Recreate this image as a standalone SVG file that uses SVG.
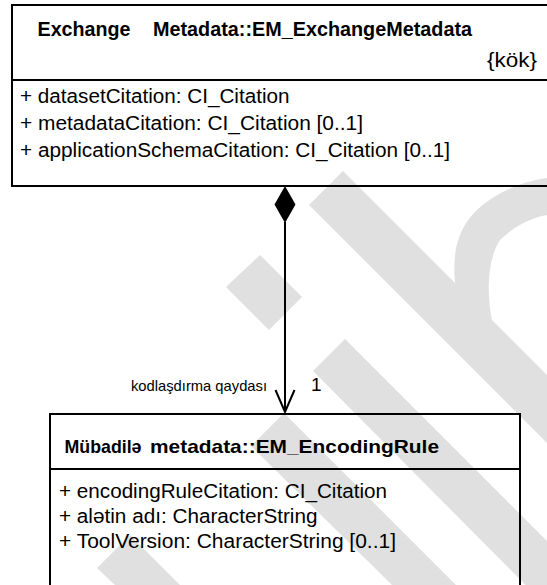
<svg xmlns="http://www.w3.org/2000/svg" width="547" height="585" viewBox="0 0 547 585">
  <style>
    .box { fill: none; stroke: #000; stroke-width: 2; }
    .sep { stroke: #000; stroke-width: 2; }
    .title { font-family: "Liberation Sans", Arial, sans-serif; font-weight: bold; fill: #000; }
    .attr { font-family: "Liberation Sans", Arial, sans-serif; font-size: 19.5px; fill: #000; }
    .wm { fill: #e0e0e0; stroke: none; }
    .edge { stroke: #000; stroke-width: 2; fill: none; }
  </style>

  <!-- background mark -->
  <g id="watermark">
    <path class="wm" d="M309,205 L343,171 L455,283 C452,250 458,222 488,201 C505,189 525,181 547,178 L600,176 L600,213 L547,215 C530,218 512,228 500,240 C488,258 486,290 492,320 L600,428 L600,496 Z"/>
    <path class="wm" d="M260,255 L302,297 L269,330 L226,287 Z"/>
    <path class="wm" d="M345,339 L600,594 L600,660 L313,371 Z"/>
    <path class="wm" d="M284,413 L600,729 L600,790 L251,446 Z"/>
    <path class="wm" d="M130,535 L180,585 L115,585 L97,568 Z"/>
  </g>

  <g id="exchange-metadata">
    <rect class="box" x="12" y="5" width="560" height="181"/>
    <line class="sep" x1="12" y1="80" x2="572" y2="80"/>
    <text class="title" x="37.5" y="36" font-size="19.5" textLength="93" lengthAdjust="spacingAndGlyphs">Exchange</text>
    <text class="title" x="153" y="36" font-size="19.5" textLength="319" lengthAdjust="spacingAndGlyphs">Metadata::EM_ExchangeMetadata</text>
    <text class="attr" x="487" y="67" textLength="50" lengthAdjust="spacingAndGlyphs">{kök}</text>
    <text class="attr" x="20" y="103" textLength="269.5" lengthAdjust="spacingAndGlyphs">+ datasetCitation: CI_Citation</text>
    <text class="attr" x="20" y="130" textLength="343" lengthAdjust="spacingAndGlyphs">+ metadataCitation: CI_Citation [0..1]</text>
    <text class="attr" x="20" y="157" textLength="430" lengthAdjust="spacingAndGlyphs">+ applicationSchemaCitation: CI_Citation [0..1]</text>
  </g>

  <g id="encoding-rule">
    <rect class="box" x="50" y="414" width="470" height="200"/>
    <line class="sep" x1="50" y1="469" x2="520" y2="469"/>
    <text class="title" x="64.5" y="453" font-size="18.5" textLength="77" lengthAdjust="spacingAndGlyphs">Mübadilə</text>
    <text class="title" x="150" y="453" font-size="18.5" textLength="289" lengthAdjust="spacingAndGlyphs">metadata::EM_EncodingRule</text>
    <text class="attr" x="59" y="497.5" textLength="328" lengthAdjust="spacingAndGlyphs">+ encodingRuleCitation: CI_Citation</text>
    <text class="attr" x="59" y="522.5" textLength="258.5" lengthAdjust="spacingAndGlyphs">+ alətin adı: CharacterString</text>
    <text class="attr" x="59" y="547.5" textLength="337" lengthAdjust="spacingAndGlyphs">+ ToolVersion: CharacterString [0..1]</text>
  </g>

  <g id="connectors">
    <line class="edge" x1="285" y1="222" x2="285" y2="412"/>
    <path d="M285,186 L295.5,204.5 L285,223 L274.5,204.5 Z" fill="#000"/>
    <polyline class="edge" points="275.5,390 285,412 294.5,390"/>
    <text class="attr" x="131" y="391" style="font-size:14.5px" textLength="136" lengthAdjust="spacingAndGlyphs">kodlaşdırma qaydası</text>
    <text class="attr" x="311" y="391" style="font-size:19px">1</text>
  </g>
</svg>
